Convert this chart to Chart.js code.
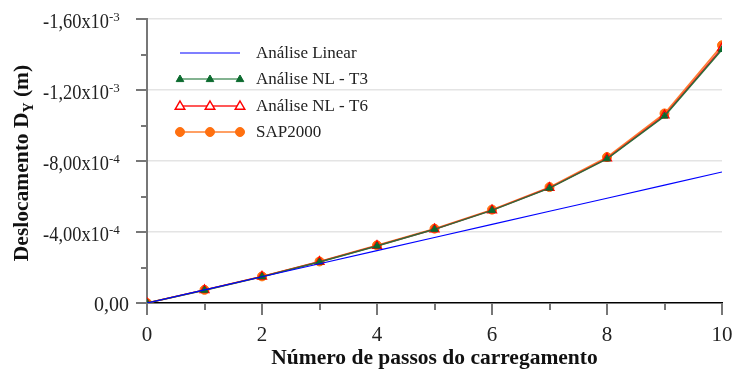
<!DOCTYPE html>
<html>
<head>
<meta charset="utf-8">
<script src="https://cdn.jsdelivr.net/npm/chart.js@4"></script>
<style>
  html, body { margin: 0; padding: 0; background: #fff; }
  #wrap { width: 734px; height: 372px; position: relative; }
</style>
</head>
<body>
<div id="wrap"><canvas id="chart"></canvas></div>
<script>
const steps = [0, 1, 2, 3, 4, 5, 6, 7, 8, 9, 10];
const linear = [0, -7.4e-5, -1.48e-4, -2.21e-4, -2.95e-4, -3.69e-4, -4.43e-4, -5.17e-4, -5.9e-4, -6.64e-4, -7.38e-4];
const nlT3 = [0, -7.2e-5, -1.48e-4, -2.31e-4, -3.21e-4, -4.15e-4, -5.22e-4, -6.47e-4, -8.12e-4, -1.053e-3, -1.428e-3];
const nlT6 = [0, -7.3e-5, -1.49e-4, -2.32e-4, -3.22e-4, -4.16e-4, -5.23e-4, -6.49e-4, -8.15e-4, -1.058e-3, -1.436e-3];
const sap = [0, -7.4e-5, -1.5e-4, -2.34e-4, -3.25e-4, -4.19e-4, -5.26e-4, -6.53e-4, -8.22e-4, -1.068e-3, -1.452e-3];

const seriesNames = ["Análise Linear", "Análise NL - T3", "Análise NL - T6", "SAP2000"];
const xTickLabels = ["0", "2", "4", "6", "8", "10"];
const yMajor = [0, -4e-4, -8e-4, -1.2e-3, -1.6e-3];
const yMantissa = ["0,00", "-4,00", "-8,00", "-1,20", "-1,60"];
const yExp = ["", "-4", "-4", "-3", "-3"];
const xTitle = "Número de passos do carregamento";

const SERIF = "'Liberation Serif', 'Times New Roman', serif";
const TICK_COLOR = "#777";

function pts(arr) {
  return steps.map((x, i) => ({ x: x, y: arr[i] }));
}

// ticks, tick labels, axis titles and legend are drawn by hand
const decorPlugin = {
  id: "decor",
  afterDraw(chart) {
    const ctx = chart.ctx;
    const xs = chart.scales.x;
    const ys = chart.scales.y;
    const left = chart.chartArea.left;
    const bottom = chart.chartArea.bottom;
    ctx.save();
    ctx.strokeStyle = TICK_COLOR;
    ctx.lineWidth = 2;
    // y ticks (major + minor)
    for (let k = 0; k <= 8; k++) {
      const py = Math.round(ys.getPixelForValue(-k * 2e-4));
      const len = k % 2 === 0 ? 11 : 6;
      ctx.beginPath();
      ctx.moveTo(left - len, py);
      ctx.lineTo(left, py);
      ctx.stroke();
    }
    // x ticks
    for (let i = 0; i <= 10; i++) {
      const px = Math.round(xs.getPixelForValue(i));
      const len = i % 2 === 0 ? 12 : 7;
      ctx.beginPath();
      ctx.moveTo(px, bottom);
      ctx.lineTo(px, bottom + len);
      ctx.stroke();
    }
    ctx.fillStyle = "#222";
    ctx.textBaseline = "alphabetic";
    // x tick labels
    ctx.font = "21px " + SERIF;
    ctx.textAlign = "center";
    xTickLabels.forEach((t) => {
      ctx.fillText(t, xs.getPixelForValue(Number(t)), bottom + 38);
    });
    // y tick labels
    yMajor.forEach((v, i) => {
      const py = ys.getPixelForValue(v);
      if (yExp[i] === "") {
        ctx.font = "20px " + SERIF;
        ctx.textAlign = "right";
        ctx.fillText(yMantissa[i], 129, py + 8);
      } else {
        ctx.save();
        ctx.translate(109, py + 9);
        ctx.scale(0.92, 1);
        ctx.font = "20px " + SERIF;
        ctx.textAlign = "right";
        ctx.fillText(yMantissa[i] + "x10", 0, 0);
        ctx.restore();
        ctx.font = "13px " + SERIF;
        ctx.textAlign = "left";
        ctx.fillText(yExp[i], 109, py + 2);
      }
    });
    // x title
    ctx.fillStyle = "#111";
    ctx.font = "bold 21.5px " + SERIF;
    ctx.textAlign = "center";
    ctx.fillText(xTitle, (chart.chartArea.left + chart.chartArea.right) / 2, 364);
    // y title
    ctx.save();
    ctx.translate(28, 163);
    ctx.rotate(-Math.PI / 2);
    const a = "Deslocamento D";
    const b = "Y";
    const c = " (m)";
    ctx.font = "bold 21.5px " + SERIF;
    const wa = ctx.measureText(a).width;
    const wc = ctx.measureText(c).width;
    ctx.font = "bold 14px " + SERIF;
    const wb = ctx.measureText(b).width;
    const x0 = -(wa + wb + wc) / 2;
    ctx.textAlign = "left";
    ctx.font = "bold 21.5px " + SERIF;
    ctx.fillText(a, x0, 0);
    ctx.font = "bold 14px " + SERIF;
    ctx.fillText(b, x0 + wa, 5);
    ctx.font = "bold 21.5px " + SERIF;
    ctx.fillText(c, x0 + wa + wb, 0);
    ctx.restore();
    // legend
    const rows = [53, 79, 106, 132];
    chart.data.datasets.forEach((ds, i) => {
      const y = rows[i];
      ctx.strokeStyle = i === 1 ? "#5a9a6c" : ds.borderColor;
      ctx.lineWidth = ds.borderWidth;
      ctx.beginPath();
      ctx.moveTo(180, y);
      ctx.lineTo(240, y);
      ctx.stroke();
      if (ds.pointRadius > 0) {
        [180, 210, 240].forEach((mx) => {
          drawMarker(ctx, ds, mx, y);
        });
      }
      ctx.fillStyle = "#222";
      ctx.font = "17px " + SERIF;
      ctx.textAlign = "left";
      ctx.textBaseline = "middle";
      ctx.fillText(seriesNames[i], 256, y + 1);
    });
    ctx.restore();
  },
};

function drawMarker(ctx, ds, x, y) {
  const r = ds.pointRadius;
  ctx.beginPath();
  if (ds.pointStyle === "triangle") {
    ctx.moveTo(x, y - r);
    ctx.lineTo(x + r * 0.95, y + r * 0.65);
    ctx.lineTo(x - r * 0.95, y + r * 0.65);
    ctx.closePath();
  } else {
    ctx.arc(x, y, r, 0, Math.PI * 2);
  }
  ctx.fillStyle = ds.pointBackgroundColor;
  ctx.fill();
  ctx.strokeStyle = ds.pointBorderColor;
  ctx.lineWidth = ds.pointBorderWidth;
  ctx.stroke();
}

const chart = new Chart(document.getElementById("chart"), {
  type: "scatter",
  data: {
    datasets: [
      {
        label: seriesNames[0],
        data: pts(linear),
        showLine: true,
        borderColor: "#0000ff",
        borderWidth: 1.2,
        pointRadius: 0,
        pointBackgroundColor: "#0000ff",
        pointBorderColor: "#0000ff",
        pointBorderWidth: 0,
      },
      {
        label: seriesNames[1],
        data: pts(nlT3),
        showLine: true,
        borderColor: "#2f6b3a",
        borderWidth: 1.5,
        pointStyle: "triangle",
        pointRadius: 4,
        pointBackgroundColor: "#0b6a2e",
        pointBorderColor: "#0b6a2e",
        pointBorderWidth: 1,
      },
      {
        label: seriesNames[2],
        data: pts(nlT6),
        showLine: true,
        borderColor: "#ff2020",
        borderWidth: 1.5,
        pointStyle: "triangle",
        pointRadius: 5,
        pointBackgroundColor: "#ffffff",
        pointBorderColor: "#ff0000",
        pointBorderWidth: 1.5,
      },
      {
        label: seriesNames[3],
        data: pts(sap),
        showLine: true,
        borderColor: "#ff8030",
        borderWidth: 1.5,
        pointStyle: "circle",
        pointRadius: 4.5,
        pointBackgroundColor: "#ff7010",
        pointBorderColor: "#ff7010",
        pointBorderWidth: 1,
      },
    ],
  },
  options: {
    animation: false,
    responsive: true,
    maintainAspectRatio: false,
    layout: { padding: { left: 0, right: 12, top: 19, bottom: 0 } },
    plugins: { legend: { display: false }, tooltip: { enabled: false } },
    scales: {
      x: {
        type: "linear",
        min: 0,
        max: 10,
        afterFit: (s) => {
          s.height = 69;
          s.paddingLeft = 0;
          s.paddingRight = 0;
        },
        grid: { display: false, drawTicks: false },
        border: { display: true, color: "#000", width: 1.5 },
        ticks: { stepSize: 1, display: false },
      },
      y: {
        type: "linear",
        reverse: true,
        min: -1.6e-3,
        max: 0,
        afterFit: (s) => { s.width = 147; },
        grid: {
          drawTicks: false,
          color: (c) => {
            const k = Math.round(c.tick.value / 2e-4);
            return k !== 0 && k % 2 === 0 ? "#e4e4e4" : "rgba(0,0,0,0)";
          },
          lineWidth: 1.5,
        },
        border: { display: true, color: TICK_COLOR, width: 2 },
        ticks: { stepSize: 2e-4, display: false },
      },
    },
  },
  plugins: [decorPlugin],
});
</script>
</body>
</html>
